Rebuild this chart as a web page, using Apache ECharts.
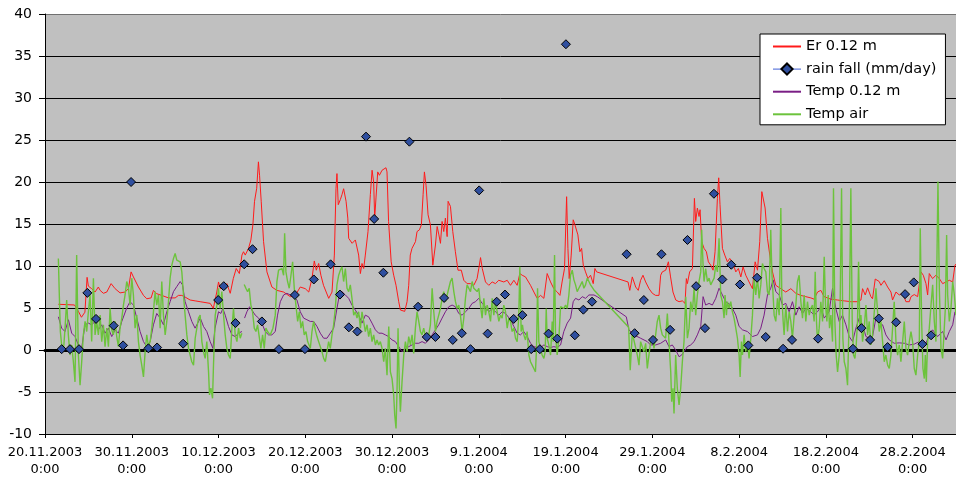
<!DOCTYPE html>
<html>
<head>
<meta charset="utf-8">
<script src="https://cdn.jsdelivr.net/npm/echarts@6/dist/echarts.min.js"></script>
<style>
html,body{margin:0;padding:0;background:#fff;}
#chart{width:956px;height:480px;}
</style>
</head>
<body>
<div id="chart"></div>
<script>
// x values are days since 20.11.2003 0:00
const startDate = Date.UTC(2003, 10, 20);
const seriesNames = ['Er 0.12 m', 'rain fall (mm/day)', 'Temp 0.12 m', 'Temp air'];
const yTicks = { min: -10, max: 40, step: 5 };
const xTicks = { min: 0, max: 105, step: 10 };

const erData = [[1.54,5.44],[2.5,5.4],[3.4,5.36],[3.85,4.6],[4.2,3.9],[4.6,4.5],[4.85,8.65],[5.0,7.6],[5.38,7.3],[5.77,6.9],[6.15,7.5],[6.35,7.1],[6.73,6.75],[7.12,6.9],[7.62,7.9],[8.08,7.3],[8.65,6.8],[9.23,6.9],[9.62,7.3],[9.92,9.3],[10.19,8.7],[10.77,7.5],[11.35,6.5],[11.73,6.1],[12.23,6.2],[12.5,7.1],[12.88,6.7],[13.46,6.5],[14.23,6.2],[15.0,6.2],[15.38,6.5],[15.77,6.5],[16.15,6.3],[16.73,5.95],[17.31,5.85],[17.88,5.75],
[19.04,5.55],[19.4,4.96],[19.8,6.9],[20.0,8.1],[20.2,7.3],[20.6,7.5],[20.96,7.9],[21.35,6.75],[21.7,8.5],[22.04,9.7],[22.4,9.1],[22.7,11.3],[22.88,11.7],[23.08,11.3],[23.46,12.1],[23.73,13.1],[23.96,14.9],[24.15,17.7],[24.4,19.25],[24.6,22.4],[24.73,20.8],[24.92,17.7],[25.19,12.9],[25.58,9.3],[26.15,7.5],[26.73,7.1],[27.5,6.9],[28.27,6.35],[28.85,6.5],[29.42,7.5],[30.0,7.3],[30.4,6.9],[30.77,8.5],[31.04,10.6],[31.27,9.5],[31.54,10.3],[31.8,8.9],[32.1,7.7],[32.7,6.15],[33.08,6.9],[33.35,11.3],[33.54,19.2],[33.65,21.0],[33.8,17.3],[34.04,17.9],[34.23,18.5],[34.42,19.2],[34.7,17.7],[34.9,15.7],[35.0,13.3],[35.4,12.7],[35.77,13.1],
[36.15,11.3],[36.35,9.1],[36.54,10.3],[36.73,9.7],[36.92,11.3],[37.23,14.1],[37.5,18.5],[37.7,21.4],[37.88,20.0],[38.0,15.7],[38.15,18.1],[38.35,21.2],[38.54,20.8],[38.85,21.4],[39.3,21.7],[39.42,21.2],[39.6,15.3],[39.9,10.5],[40.19,8.9],[40.46,7.7],[40.77,5.75],[40.96,4.76],[41.46,4.6],[41.73,5.75],[41.92,7.7],[42.1,11.3],[42.3,12.1],[42.5,12.5],[42.7,12.9],[42.88,14.1],[43.15,14.3],[43.38,14.9],[43.58,18.5],[43.73,21.2],[43.92,19.6],[44.15,16.1],[44.42,14.9],[44.7,10.1],[45.0,12.5],[45.2,14.7],[45.4,13.7],[45.58,12.7],[45.77,15.3],[45.96,14.1],[46.15,15.7],[46.35,13.5],[46.46,17.7],[46.73,17.1],[47.0,14.1],[47.3,11.7],[47.6,9.5],[47.98,9.5],[48.27,8.3],[48.65,7.9],[49.04,7.9],[49.42,7.7],[49.8,8.5],[50.0,9.7],[50.2,11.0],[50.4,9.7],[50.77,8.1],[51.15,7.7],[51.54,8.1],[51.92,7.9],[52.3,8.3],[52.88,8.1],[53.27,8.3],[53.65,7.7],
[54.04,8.3],[54.42,7.7],[54.73,9.1],[55.0,8.9],[55.38,8.7],[55.96,7.7],[56.35,6.9],[56.73,6.15],[57.12,6.5],[57.5,6.15],[57.88,9.1],[58.27,8.1],[58.65,7.3],[59.04,6.9],[59.35,6.5],[59.6,8.1],[59.88,9.7],[60.12,18.25],[60.27,12.1],[60.42,8.5],[60.65,11.3],[60.88,15.5],[61.08,14.9],[61.23,15.1],[61.42,13.7],[61.65,11.7],[61.85,12.1],[62.04,10.1],[62.3,9.3],[62.58,8.5],[62.88,8.9],[63.19,7.9],[63.38,9.7],[63.58,9.3],[67.2,8.1],[67.4,7.1],[67.69,8.7],[68.08,7.5],[68.38,7.1],[68.65,8.3],[68.92,8.9],[69.23,8.1],[69.62,7.3],[70.0,6.75],[70.38,6.5],[70.77,6.5],[70.96,8.9],[71.15,9.3],[71.54,9.5],
[71.85,10.5],[72.1,8.7],[72.38,6.9],[72.7,5.95],[73.08,5.75],[73.46,5.85],[73.77,5.55],[73.92,8.5],[74.04,7.9],[74.3,9.3],[74.62,9.7],[74.85,18.05],[75.0,15.3],[75.19,16.9],[75.38,15.9],[75.5,16.7],[75.69,12.9],[75.96,12.1],[76.23,11.7],[76.46,10.5],[76.73,10.1],[77.0,9.5],[77.23,11.7],[77.5,18.05],[77.65,20.5],[77.8,17.3],[78.08,12.1],[78.35,11.3],[78.65,10.5],[78.92,10.9],[79.23,10.5],[79.62,9.3],[79.92,9.7],[80.2,8.7],[80.46,9.9],[80.77,8.9],[81.15,8.1],[81.54,7.3],[81.85,10.5],[82.12,9.5],[82.38,12.9],[82.62,18.85],[82.8,19.05],[83.0,16.9],[83.27,13.3],[83.54,11.3],[83.85,9.3],[84.23,7.7],[84.81,7.3],[85.38,6.9],[85.96,7.3],[86.54,6.75],[87.12,6.5],[87.69,6.35],[88.27,6.2],
[88.65,6.05],[89.04,6.9],[89.42,7.1],[89.8,6.35],[90.58,6.05],[91.35,5.95],[92.12,5.85],[92.88,5.75],[93.65,5.75],[94.04,5.95],[94.23,7.3],[94.54,6.55],[94.81,7.4],[95.19,6.35],[95.38,6.1],[95.69,8.45],[96.15,8.15],[96.35,7.7],[96.73,8.25],[97.12,7.5],[97.5,6.9],[97.69,5.95],[98.08,6.9],[98.46,6.55],[98.85,6.75],[99.23,5.75],[99.62,5.75],[99.81,6.35],[100.19,6.6],[100.58,6.35],[100.96,9.3],[101.23,8.9],[101.54,7.9],[101.73,6.55],[101.92,9.1],[102.3,8.5],[102.69,8.9],[103.08,8.5],[103.46,7.9],[103.85,8.1],[104.23,8.3],[104.62,8.1],[104.88,10.1],[105.1,10.3]];

const rainData = [[1.92,0.1],[2.88,0.1],[3.92,0.1],[4.88,6.8],[5.88,3.7],[7.92,2.9],[9.0,0.55],[9.92,20.0],[11.92,0.2],[12.92,0.3],[15.92,0.75],[19.96,5.95],[20.6,7.6],[21.96,3.2],[22.96,10.2],[23.92,12.0],[25.0,3.4],[26.96,0.1],[28.8,6.55],[29.96,0.1],[30.98,8.4],[32.92,10.2],[34.0,6.6],[35.02,2.7],[36.0,2.2],[37.0,25.4],[37.94,15.6],[39.0,9.2],[42.0,24.8],[43.0,5.15],[44.0,1.55],[45.0,1.55],[46.0,6.2],[47.0,1.2],[48.04,2.0],[49.04,0.1],[50.04,19.0],[51.02,1.95],[52.06,5.75],[53.02,6.6],[54.02,3.7],[55.02,4.15],[56.04,0.1],[57.04,0.1],[58.04,1.95],[59.04,1.35],[60.04,36.4],[61.07,1.75],[62.05,4.8],[63.05,5.75],[67.04,11.4],[67.96,2.0],[69.02,5.95],[70.08,1.2],[71.05,11.4],[72.05,2.4],[74.05,13.1],[75.05,7.6],[76.07,2.6],[77.1,18.6],[78.07,8.4],[79.1,10.15],[80.1,7.8],[81.07,0.55],[82.07,8.6],[83.07,1.55],[85.07,0.15],[86.1,1.2],[89.1,1.35],[93.12,0.15],[94.1,2.6],[95.1,1.2],[96.1,3.75],[97.12,0.35],[98.1,3.3],[99.13,6.65],[100.13,8.05],[101.13,0.7],[102.13,1.75]];

const temp12Data = [[1.54,3.95],[1.92,2.6],[2.3,2.2],[2.7,3.6],[3.08,2.0],[3.46,1.6],[3.85,0.6],[4.23,0.2],[4.6,3.0],[5.0,3.2],[5.38,3.0],[5.77,3.4],[6.15,2.4],[6.54,3.0],[6.92,2.0],[7.3,2.6],[7.69,1.6],[8.08,2.4],[8.46,2.0],[8.85,3.4],[9.42,5.0],[9.8,5.75],[10.19,5.35],[10.58,3.8],[10.96,2.2],[11.35,1.0],[11.73,0.4],[12.12,1.0],[12.5,3.0],[12.88,4.35],[13.27,3.8],[13.65,3.0],[14.04,4.55],[14.42,5.75],[14.81,6.95],[15.19,7.55],[15.58,8.15],[15.85,7.75],[16.15,5.75],[16.54,4.55],[16.92,3.4],[17.3,2.6],[17.6,3.2],[17.9,3.8],[18.27,2.8],[18.65,2.2],[19.04,1.0],[19.35,0.2],[19.6,2.6],[20.0,4.55],[20.27,4.35],[20.5,4.95],[20.77,4.15],[21.15,2.8],[21.54,1.8],[21.92,1.6],[22.3,2.0],[22.7,2.2],[22.85,'-'],[23.0,3.8],[23.27,4.55],[23.58,5.15],[23.85,4.75],[24.23,4.15],[24.62,3.8],[25.0,3.2],[25.38,2.2],[25.77,1.8],[26.15,1.8],[26.54,2.2],[26.8,4.15],[27.12,5.75],[27.5,6.55],[27.88,6.75],[28.27,6.55],[28.65,6.35],[29.04,5.95],[29.42,4.55],[29.81,3.8],[30.19,3.6],[30.58,3.4],[30.96,3.4],[31.35,2.8],[31.73,2.0],[32.12,1.4],[32.5,1.4],[32.88,2.0],[33.27,2.6],[33.65,4.95],[33.96,6.75],[34.23,6.95],[34.62,6.55],[35.0,6.15],[35.38,5.35],[35.77,4.75],[36.15,4.15],[36.54,3.2],[36.92,4.15],[37.3,3.95],[37.69,3.2],[38.08,2.4],[38.46,2.0],[38.85,2.0],[39.23,1.8],[39.6,1.6],[40.0,1.2],[40.38,1.0],[40.77,0.4],[41.15,-0.2],[41.54,0.2],[41.92,0.4],[42.3,0.6],[42.69,0.8],[43.08,0.8],[43.46,1.0],[43.85,0.8],[44.23,1.2],[44.62,1.8],[45.0,2.4],[45.38,3.0],[45.77,3.8],[46.15,4.55],[46.54,5.15],[46.92,5.35],[47.3,5.15],[47.69,4.35],[48.08,4.15],[48.46,4.55],[48.85,4.95],[49.23,5.55],[49.62,5.75],[50.0,6.15],[50.38,5.55],[50.77,5.15],[51.15,4.55],[51.54,4.95],[51.92,4.55],[52.31,4.15],[52.69,4.55],[53.08,4.35],[53.65,3.6],[54.04,2.8],[54.42,2.0],[54.8,1.8],[55.19,2.2],[55.58,1.6],[55.96,0.8],[56.35,0.4],[56.73,0.3],[57.12,0.3],[57.5,0.6],[57.88,0.4],[58.27,0.3],[58.65,0.4],[59.04,0.3],[59.42,0.6],[59.8,2.2],[60.19,3.2],[60.58,3.8],[60.88,5.75],[61.15,6.15],[61.54,5.95],[61.92,6.35],[62.3,6.15],[62.69,6.55],[62.88,6.75],[63.27,6.55],[63.65,6.35],[67.0,3.95],[67.3,2.4],[67.88,1.8],[68.65,1.4],[69.42,1.0],[69.8,0.6],[70.38,0.6],[70.96,0.8],[71.54,1.2],[71.92,0.4],[72.3,0.6],[72.69,0.0],[73.08,-0.8],[73.38,-0.6],[73.65,-0.2],[74.04,0.4],[74.42,0.6],[74.81,1.0],[75.19,1.8],[75.58,2.8],[75.85,6.35],[76.15,5.35],[76.54,5.55],[76.92,5.35],[77.31,6.15],[77.69,7.35],[78.08,6.55],[78.46,5.75],[79.04,5.35],[79.62,4.15],[80.0,2.8],[80.39,2.4],[80.96,2.2],[81.54,1.6],[82.12,1.8],[82.5,2.6],[82.88,4.15],[83.27,6.55],[83.65,7.35],[83.92,8.35],[84.23,6.95],[84.62,6.55],[85.0,5.35],[85.38,5.55],[85.77,4.55],[86.15,5.75],[86.54,4.15],[86.92,5.15],[87.31,4.35],[87.69,4.95],[88.27,4.55],[88.65,4.15],[89.04,4.55],[89.42,5.15],[89.81,3.8],[90.38,4.55],[90.77,7.35],[91.15,4.95],[91.54,3.4],[91.92,4.15],[92.31,3.0],[92.69,1.6],[93.08,1.0],[93.46,2.6],[93.85,3.8],[94.23,3.0],[94.62,1.6],[95.0,1.4],[95.38,1.6],[95.77,3.8],[96.15,3.2],[96.54,3.0],[96.92,1.8],[97.31,1.2],[97.88,0.8],[98.46,0.85],[99.04,0.8],[99.62,0.6],[100.19,0.7],[100.77,1.0],[101.15,0.8],[101.54,0.8],[101.92,1.8],[102.31,2.4],[102.88,1.6],[103.46,2.2],[103.85,1.2],[104.23,2.2],[104.62,3.0],[104.88,4.55],[105.1,4.75]];

const airData = [[1.54,10.9],[1.65,6.55],[1.77,2.2],[1.92,0.6],[2.12,-0.2],[2.31,2.6],[2.5,5.95],[2.69,1.8],[2.88,-0.6],[3.08,0.6],[3.27,-1.4],[3.46,-3.8],[3.65,11.3],[3.77,4.15],[3.85,-0.6],[4.04,-4.2],[4.23,-1.4],[4.42,1.8],[4.62,3.4],[4.81,2.2],[5.0,4.55],[5.19,6.55],[5.38,1.0],[5.58,8.55],[5.77,1.8],[5.96,3.4],[6.15,1.8],[6.35,4.15],[6.54,1.0],[6.73,3.0],[6.92,0.4],[7.12,2.6],[7.31,0.4],[7.5,4.95],[7.69,2.4],[7.88,1.8],[8.08,3.4],[8.27,1.6],[8.46,0.4],[8.65,2.6],[8.85,3.8],[9.04,5.35],[9.23,6.55],[9.42,8.15],[9.62,7.35],[9.81,5.35],[10.0,8.55],[10.19,6.55],[10.38,2.6],[10.58,4.15],[10.77,1.0],[10.96,-0.6],[11.15,-1.8],[11.35,-3.2],[11.54,-0.2],[11.73,1.8],[11.92,0.4],[12.12,1.0],[12.31,2.6],[12.5,4.55],[12.69,6.95],[12.88,5.35],[13.08,6.55],[13.27,2.6],[13.46,8.15],[13.65,4.15],[13.85,1.8],[14.04,3.4],[14.23,5.75],[14.42,8.55],[14.62,10.1],[14.81,10.9],[15.0,11.5],[15.19,10.7],[15.38,10.9],[15.58,10.5],[15.77,9.3],[15.96,6.55],[16.15,4.15],[16.35,1.8],[16.54,0.2],[16.73,-0.6],[16.92,-1.4],[17.12,-1.8],[17.31,1.4],[17.5,2.6],[17.69,3.8],[17.88,4.15],
[18.08,1.0],[18.27,-0.2],[18.46,-1.0],[18.65,1.0],[18.85,-2.6],[18.96,-5.35],[19.12,-4.55],[19.31,-5.75],[19.42,-1.8],[19.62,4.15],[19.81,5.35],[20.0,7.35],[20.19,4.95],[20.38,6.95],[20.58,4.15],[20.77,1.8],[20.96,0.2],[21.15,-0.6],[21.35,-1.0],[21.54,2.6],[21.73,4.95],[21.92,1.8],[22.12,1.0],[22.31,2.6],[22.5,1.4],[22.69,2.0],[22.85,'-'],[22.96,7.8],[23.15,7.35],[23.35,6.95],[23.54,7.35],[23.73,5.35],[23.92,4.55],[24.12,2.6],[24.31,2.2],[24.5,3.0],[24.69,1.6],[24.88,0.2],[25.08,1.8],[25.27,0.2],[25.46,2.6],[25.65,2.2],[25.96,1.8],[26.27,2.6],[26.54,4.15],[26.73,8.15],[26.92,9.5],[27.12,9.3],[27.31,9.7],[27.5,8.9],[27.62,13.9],[27.77,9.3],[27.96,8.15],[28.15,7.35],[28.35,8.9],[28.54,10.5],[28.73,7.35],[28.92,5.35],[29.12,3.4],[29.31,4.55],[29.5,2.6],[29.69,3.4],[29.88,1.8],[30.08,2.2],[30.27,1.0],[30.58,0.2],[30.77,2.2],[30.96,3.4],[31.15,2.4],[31.35,1.6],[31.54,1.0],[31.73,0.4],[31.92,-0.2],[32.12,-1.0],[32.31,-1.4],[32.5,-0.2],[32.69,1.0],[32.88,0.2],[33.08,1.8],[33.27,3.0],[33.46,4.95],[33.65,7.75],[33.85,8.9],[34.04,9.5],[34.23,9.9],[34.42,8.15],[34.62,9.7],[34.81,7.35],[35.0,6.95],[35.19,7.75],[35.38,6.15],[35.58,4.15],[35.77,4.55],
[35.96,3.8],[36.15,4.55],[36.35,2.6],[36.54,4.55],[36.73,3.4],[36.92,2.2],[37.12,3.0],[37.31,1.6],[37.5,2.6],[37.69,1.0],[37.88,1.8],[38.08,0.6],[38.27,1.2],[38.46,0.6],[38.65,1.0],[38.85,0.2],[39.04,-1.4],[39.23,0.2],[39.42,-3.0],[39.62,2.8],[39.81,-2.6],[40.0,-3.4],[40.19,-5.35],[40.31,-7.75],[40.46,-9.35],[40.58,-4.55],[40.69,2.6],[40.85,-4.55],[40.96,-7.35],[41.15,-3.8],[41.35,-0.6],[41.54,1.0],[41.73,-0.2],[41.92,1.6],[42.12,0.6],[42.31,1.8],[42.5,-0.4],[42.69,2.6],[42.88,4.55],[43.08,3.4],[43.27,2.2],[43.46,1.8],[43.65,2.6],[43.85,1.6],[44.04,1.4],[44.23,1.8],[44.42,3.0],[44.62,7.35],[44.81,4.55],[45.0,2.2],[45.19,3.4],[45.38,4.15],[45.58,4.95],[45.77,6.15],[45.96,6.95],[46.15,5.75],[46.35,6.55],[46.54,7.35],[46.73,8.15],[46.92,8.55],[47.12,6.95],[47.31,5.75],[47.5,4.95],[47.69,5.35],[47.88,4.15],[48.08,2.2],[48.27,3.8],[48.46,6.15],[48.65,7.75],[48.85,7.75],[49.04,6.95],[49.23,8.15],[49.42,7.35],[49.62,7.55],[49.81,6.95],[50.0,7.35],[50.19,5.35],[50.38,3.8],[50.58,6.15],[50.77,4.15],[50.96,5.35],[51.15,4.55],[51.35,3.4],[51.54,6.15],[51.73,4.15],[51.92,5.75],[52.12,4.55],[52.31,3.4],[52.5,4.15],[52.69,3.8],[52.88,5.35],[53.08,4.55],[53.27,2.6],[53.46,3.8],[53.65,3.4],
[53.84,2.2],[54.04,2.6],[54.23,1.4],[54.42,1.0],[54.61,4.15],[54.73,9.9],[54.88,2.2],[55.03,3.0],[55.19,1.8],[55.38,1.2],[55.57,2.2],[55.77,-0.6],[55.96,-1.4],[56.15,-1.8],[56.34,-2.2],[56.53,-2.6],[56.65,0.2],[56.77,7.35],[56.92,1.0],[57.11,0.2],[57.3,-0.6],[57.5,-1.0],[57.65,-0.2],[57.77,4.95],[57.88,1.4],[58.07,0.6],[58.27,-0.6],[58.46,3.4],[58.57,1.0],[58.73,11.3],[58.84,1.8],[59.03,-0.6],[59.23,1.4],[59.42,5.15],[59.61,5.35],[59.8,4.95],[60.0,5.35],[60.19,4.95],[60.38,6.55],[60.57,8.9],[60.77,9.5],[60.96,8.35],[61.15,7.75],[61.34,6.95],[61.53,7.35],[61.73,7.75],[61.92,8.15],[62.11,7.35],[62.3,7.75],[62.5,8.55],[62.69,8.15],[62.88,7.75],[63.27,7.15],[67.27,2.7],[67.45,-2.4],[67.69,2.0],[67.88,1.8],[68.27,-0.6],[68.46,-1.8],[68.65,1.0],[69.03,-0.2],[69.23,0.8],[69.42,-2.2],[69.61,-0.6],[69.8,1.0],[70.0,1.6],[70.19,0.2],[70.57,3.4],[70.77,4.15],[70.96,2.6],[71.15,1.8],[71.34,1.6],[71.53,1.4],
[71.73,4.35],[71.92,1.0],[72.12,-2.6],[72.23,-6.15],[72.38,-4.55],[72.5,-7.55],[72.69,-0.6],[72.88,-4.55],[73.08,-6.55],[73.27,-4.55],[73.46,-1.4],[73.65,1.0],[73.85,6.35],[74.04,1.4],[74.23,2.6],[74.42,5.75],[74.62,4.55],[74.81,7.35],[75.0,4.15],[75.19,6.55],[75.38,8.15],[75.58,9.3],[75.69,14.3],[75.85,10.1],[75.96,8.15],[76.15,9.7],[76.35,8.15],[76.54,8.55],[76.73,7.75],[76.92,8.15],[77.12,8.55],[77.31,10.1],[77.5,9.3],[77.69,13.3],[77.81,9.3],[77.88,6.55],[78.08,5.75],[78.27,3.8],[78.38,6.55],[78.54,4.15],[78.65,5.75],[78.85,4.95],[79.04,5.75],[79.23,4.55],[79.42,3.8],[79.62,2.6],[79.81,1.4],[80.0,-0.6],[80.12,-3.2],[80.27,1.0],[80.39,-0.6],[80.58,1.8],[80.77,-0.2],[80.96,1.0],[81.15,-1.0],[81.35,1.4],[81.54,4.15],[81.73,8.55],[81.92,6.55],[82.12,8.55],[82.31,6.15],[82.5,7.75],[82.69,10.3],[82.88,9.7],[83.08,9.3],[83.27,6.95],[83.46,6.55],[83.65,14.3],[83.77,9.3],[83.92,6.55],[84.04,4.15],[84.23,3.4],[84.42,6.15],[84.62,4.15],[84.81,16.9],[84.92,6.55],[85.08,3.4],[85.19,1.8],[85.38,5.35],[85.58,2.2],[85.77,4.55],[85.96,3.4],[86.15,1.4],[86.35,4.15],[86.54,5.35],[86.73,8.15],[86.92,8.9],[87.12,5.75],[87.31,3.8],[87.5,6.55],[87.69,3.4],[87.88,5.75],[88.08,4.15],[88.27,4.95],
[88.46,5.35],[88.65,3.4],[88.77,9.3],[88.92,3.4],[89.04,1.0],[89.23,2.6],[89.42,5.75],[89.62,3.4],[89.81,11.1],[89.96,5.35],[90.12,3.4],[90.27,6.55],[90.42,2.6],[90.58,4.15],[90.77,1.0],[90.88,19.25],[91.04,3.4],[91.19,-0.6],[91.35,-2.6],[91.54,-0.6],[91.65,5.75],[91.81,19.25],[91.96,1.4],[92.12,-1.4],[92.31,-2.2],[92.5,-4.2],[92.62,1.0],[92.73,5.75],[92.88,19.25],[93.04,3.4],[93.19,-0.6],[93.35,-1.0],[93.5,0.6],[93.65,3.4],[93.77,10.5],[93.92,2.6],[94.04,4.15],[94.23,1.0],[94.42,2.6],[94.62,5.35],[94.81,1.8],[95.0,3.4],[95.19,0.6],[95.38,1.8],[95.58,4.55],[95.77,7.35],[95.96,4.55],[96.15,2.2],[96.35,3.4],[96.54,1.0],[96.73,-1.4],[96.92,-0.6],[97.12,-1.8],[97.31,-2.2],[97.5,-0.6],[97.69,2.6],[97.88,5.75],[98.08,1.0],[98.27,-0.6],[98.46,0.6],[98.65,-1.4],[98.85,1.0],[99.04,3.4],[99.23,0.2],[99.42,-0.6],[99.62,1.0],[99.81,2.2],[100.0,1.0],[100.19,-2.2],[100.38,-3.0],[100.58,-0.6],[100.77,1.0],[100.88,14.5],[101.04,3.4],[101.19,-2.2],[101.35,-3.4],[101.46,-0.6],[101.58,-3.8],[101.73,1.0],[101.92,2.6],[102.12,5.35],[102.31,7.75],[102.5,3.4],[102.69,1.0],[102.81,11.3],[102.92,20.05],[103.08,7.35],[103.27,0.2],[103.46,-1.0],[103.65,-1.2],[103.77,4.95],[103.92,13.7],[104.04,6.55],[104.23,3.4],[104.42,4.95],[104.62,8.15],[104.81,6.55],[105.0,4.15],[105.12,4.55]];

const FONT = 'DejaVu Sans';
function xLabel(v) {
  if (Math.abs(v % xTicks.step) > 1e-6) return '';
  const d = new Date(startDate + v * 86400000);
  return d.getUTCDate() + '.' + (d.getUTCMonth() + 1) + '.' + d.getUTCFullYear() + '\n0:00';
}
const nY = (yTicks.max - yTicks.min) / yTicks.step + 1;
const splitColors = [];
for (let i = 0; i < nY; i++) splitColors.push(i === nY - 1 ? '#707070' : '#000000');

const hiddenSymbol = { opacity: 0 };
const chart = echarts.init(document.getElementById('chart'), null, { renderer: 'canvas' });
chart.setOption({
  animation: false,
  backgroundColor: '#ffffff',
  grid: { left: 45, top: 14, right: 0, bottom: 46, show: true, backgroundColor: '#C0C0C0', borderWidth: 0 },
  legend: {
    orient: 'vertical', left: 760, top: 34,
    itemWidth: 28, itemHeight: 14, itemGap: 7.6,
    padding: [5, 9, 3, 12],
    backgroundColor: '#ffffff', borderColor: '#000000', borderWidth: 1,
    textStyle: { fontFamily: FONT, fontSize: 14.5, color: '#000' },
    selectedMode: false,
    data: [
      { name: seriesNames[0], itemStyle: hiddenSymbol },
      { name: seriesNames[1], lineStyle: { opacity: 1, width: 1, color: '#3F5FD6' } },
      { name: seriesNames[2], itemStyle: hiddenSymbol },
      { name: seriesNames[3], itemStyle: hiddenSymbol }
    ]
  },
  xAxis: [{
    type: 'value', min: xTicks.min, max: xTicks.max, interval: xTicks.step,
    axisLine: { show: true, onZero: false, lineStyle: { color: '#000', width: 1 } },
    axisTick: { show: true, length: 4, lineStyle: { color: '#000' } },
    axisLabel: { formatter: xLabel, fontFamily: FONT, fontSize: 13, color: '#000', margin: 10, lineHeight: 17, showMaxLabel: false },
    splitLine: { show: false }
  }, {
    type: 'value', min: xTicks.min, max: xTicks.max, position: 'bottom',
    axisLine: { show: true, onZero: true, lineStyle: { color: '#000', width: 3 } },
    axisTick: { show: false }, axisLabel: { show: false }, splitLine: { show: false }
  }],
  yAxis: {
    type: 'value', min: yTicks.min, max: yTicks.max, interval: yTicks.step,
    axisLine: { show: true, onZero: false, lineStyle: { color: '#000', width: 1 } },
    axisTick: { show: true, length: 6, lineStyle: { color: '#000' } },
    axisLabel: { fontFamily: FONT, fontSize: 14, color: '#000', margin: 13 },
    splitLine: { show: true, lineStyle: { color: splitColors, width: 1 } }
  },
  series: [
    { name: seriesNames[0], type: 'line', data: erData, symbol: 'none', z: 2,
      lineStyle: { color: '#FF1A1A', width: 1 }, itemStyle: { color: '#FF1A1A' } },
    { name: seriesNames[2], type: 'line', data: temp12Data, symbol: 'none', z: 3,
      lineStyle: { color: '#7A1E85', width: 1 }, itemStyle: { color: '#7A1E85' } },
    { name: seriesNames[3], type: 'line', data: airData, symbol: 'none', z: 4,
      lineStyle: { color: '#6CC33C', width: 1.4 }, itemStyle: { color: '#6CC33C' } },
    { name: seriesNames[1], type: 'line', data: rainData, z: 6,
      symbol: 'diamond', symbolSize: 9, showSymbol: true, showAllSymbol: true,
      lineStyle: { opacity: 0 },
      itemStyle: { color: '#2F4F9F', borderColor: '#000', borderWidth: 1 } }
  ]
});
</script>
</body>
</html>
